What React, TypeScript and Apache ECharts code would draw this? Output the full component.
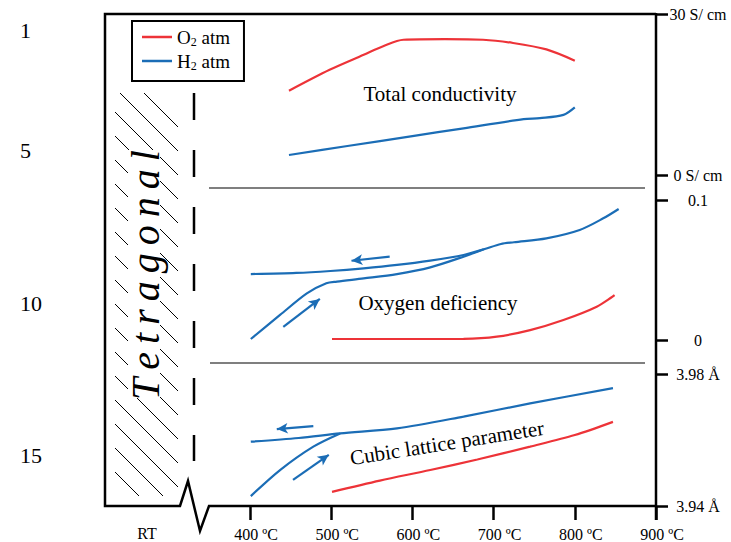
import React, { useEffect, useRef } from "react";
import * as echarts from "echarts";

const RED = "#ED3338";
const BLUE = "#1B6DB6";
const FONT = "'Liberation Serif', 'Times New Roman', serif";

// Total conductivity (S/cm) vs temperature (ºC)
const condO2T = [448, 498, 540, 564, 589, 640, 687, 724, 765, 800];
const condO2 = [15.7, 19.6, 22.4, 24.0, 25.2, 25.3, 25.2, 24.6, 23.4, 21.3];
const condH2T = [448, 520, 600, 663, 737, 757, 786, 800];
const condH2 = [3.73, 5.4, 7.25, 8.7, 10.4, 10.6, 11.2, 12.6];

// Oxygen deficiency
const defH2CoolT = [401, 457, 499, 540, 581, 622, 663, 688, 709, 725, 765, 806, 835, 854];
const defH2Cool = [0.0471, 0.0479, 0.0493, 0.0512, 0.0536, 0.0567, 0.0607, 0.0648, 0.0686, 0.0698, 0.0726, 0.0786, 0.0869, 0.0936];
const defH2HeatT = [401, 437, 470, 494, 507, 540, 581, 622, 663, 688];
const defH2Heat = [0.0007, 0.0179, 0.0333, 0.0405, 0.0417, 0.044, 0.0471, 0.0519, 0.0595, 0.0648];
const defO2T = [501, 560, 620, 663, 704, 745, 786, 827, 849];
const defO2 = [0.0007, 0.0007, 0.0007, 0.0008, 0.0024, 0.0071, 0.0143, 0.0238, 0.032];

// Cubic lattice parameter (Å)
const latH2CoolT = [401, 460, 511, 581, 663, 745, 847];
const latH2Cool = [3.9595, 3.9606, 3.962, 3.9635, 3.9671, 3.9711, 3.9757];
const latH2HeatT = [401, 437, 478, 511];
const latH2Heat = [3.943, 3.9509, 3.958, 3.962];
const latO2T = [501, 560, 622, 680, 745, 800, 847];
const latO2 = [3.9443, 3.9477, 3.9509, 3.9541, 3.958, 3.9615, 3.9655];

// Arrows [from, to] as [T, value]
const defCoolArrow = [[572, 0.0595], [525, 0.0566]];
const defHeatArrow = [[441, 0.0093], [486, 0.0293]];
const latCoolArrow = [[478, 3.9642], [433, 3.9633]];
const latHeatArrow = [[453, 3.9479], [497, 3.9555]];

// Axis ticks
const xTicks = [400, 500, 600, 700, 800, 900];
const condTicks = [0, 30];
const defTicks = [0, 0.1];
const latTicks = [3.94, 3.98];
const lineNumbers = [
  { t: "1", y: 30 },
  { t: "5", y: 150 },
  { t: "10", y: 303 },
  { t: "15", y: 455 },
];

const pairs = (xs: number[], ys: number[]) => xs.map((x, i) => [x, ys[i]]);

function lineSeries(name: string, color: string, xi: number, xs: number[], ys: number[], arrows?: number[][][], curv?: number[]) {
  const s: any = {
    name,
    type: "line",
    xAxisIndex: xi,
    yAxisIndex: xi,
    data: pairs(xs, ys),
    smooth: 0.3,
    symbol: "none",
    lineStyle: { color, width: 2.2 },
    itemStyle: { color },
    emphasis: { disabled: true },
    silent: true,
  };
  if (arrows) {
    s.markLine = {
      silent: true,
      symbol: ["none", "arrow"],
      symbolSize: [8, 11],
      label: { show: false },
      lineStyle: { color, width: 2.2, type: "solid" },
      emphasis: { disabled: true },
      data: arrows.map((a, i) => [
        { coord: a[0], lineStyle: { curveness: curv ? curv[i] : 0 } },
        { coord: a[1] },
      ]),
    };
  }
  return s;
}

function buildHatch() {
  const els: any[] = [];
  for (let c = -51; c <= 357; c += 24) {
    const x1 = Math.max(115, 93 - c);
    const x2 = Math.min(178, 496 - c);
    if (x2 > x1) {
      els.push({
        type: "line",
        silent: true,
        shape: { x1, y1: x1 + c, x2, y2: x2 + c },
        style: { stroke: "#000", lineWidth: 1 },
      });
    }
  }
  return els;
}

export default function App() {
  const ref = useRef<HTMLDivElement>(null);
  useEffect(() => {
    if (!ref.current) return;
    const chart = echarts.init(ref.current, undefined, { renderer: "svg" });
    const yCommon = {
      type: "value",
      position: "right",
      axisLine: { show: false },
      splitLine: { show: false },
    };
    const tickStyle = { length: 12, lineStyle: { color: "#000", width: 2.5 } };
    const labelStyle = { color: "#000", fontSize: 16, fontFamily: FONT, align: "center", margin: 42 };
    const option: any = {
      animation: false,
      backgroundColor: "#fff",
      grid: [
        { left: 250, width: 406, top: 14, height: 161 },
        { left: 250, width: 406, top: 200, height: 140 },
        { left: 250, width: 406, top: 374, height: 132 },
      ],
      xAxis: [
        { gridIndex: 0, type: "value", min: 400, max: 900, show: false },
        { gridIndex: 1, type: "value", min: 400, max: 900, show: false },
        {
          gridIndex: 2,
          type: "value",
          min: 400,
          max: 900,
          interval: 100,
          axisLine: { show: false },
          splitLine: { show: false },
          axisTick: { show: true, inside: false, length: 14, customValues: xTicks, lineStyle: { color: "#000", width: 2.5 } },
          axisLabel: {
            customValues: xTicks,
            formatter: (v: number) => v + " ºC",
            margin: 20,
            color: "#000",
            fontSize: 16,
            fontFamily: FONT,
            padding: [0, 0, 0, 12],
          },
        },
      ],
      yAxis: [
        {
          ...yCommon,
          gridIndex: 0,
          min: 0,
          max: 30,
          axisTick: { ...tickStyle, customValues: condTicks },
          axisLabel: { ...labelStyle, customValues: condTicks, formatter: (v: number) => v + " S/ cm" },
        },
        {
          ...yCommon,
          gridIndex: 1,
          min: 0,
          max: 0.1,
          axisTick: { ...tickStyle, customValues: defTicks },
          axisLabel: { ...labelStyle, customValues: defTicks, formatter: (v: number) => String(v) },
        },
        {
          ...yCommon,
          gridIndex: 2,
          min: 3.94,
          max: 3.98,
          axisTick: { ...tickStyle, customValues: latTicks },
          axisLabel: { ...labelStyle, customValues: latTicks, formatter: (v: number) => v.toFixed(2) + " Å" },
        },
      ],
      legend: {
        left: 132,
        top: 21,
        orient: "vertical",
        data: [
          { name: "O2 atm", icon: "rect" },
          { name: "H2 atm", icon: "rect" },
        ],
        itemWidth: 30,
        itemHeight: 2.5,
        itemGap: 2,
        padding: [5, 14, 9, 10],
        borderColor: "#000",
        borderWidth: 2,
        selectedMode: false,
        formatter: (n: string) => (n === "O2 atm" ? "O{s|2} atm" : "H{s|2} atm"),
        textStyle: {
          color: "#000",
          fontSize: 19,
          fontFamily: FONT,
          lineHeight: 22,
          rich: {
            s: { fontSize: 12, lineHeight: 10, verticalAlign: "bottom", fontFamily: FONT, color: "#000" },
          },
        },
      },
      series: [
        lineSeries("O2 atm", RED, 0, condO2T, condO2),
        lineSeries("H2 atm", BLUE, 0, condH2T, condH2),
        lineSeries("H2 atm", BLUE, 1, defH2CoolT, defH2Cool, [defCoolArrow], [0.05]),
        lineSeries("H2 atm", BLUE, 1, defH2HeatT, defH2Heat, [defHeatArrow], [0.2]),
        lineSeries("O2 atm", RED, 1, defO2T, defO2),
        lineSeries("H2 atm", BLUE, 2, latH2CoolT, latH2Cool, [latCoolArrow], [0.05]),
        lineSeries("H2 atm", BLUE, 2, latH2HeatT, latH2Heat, [latHeatArrow], [0.2]),
        lineSeries("O2 atm", RED, 2, latO2T, latO2),
      ],
      graphic: [
        ...buildHatch(),
        { type: "rect", silent: true, shape: { x: 128, y: 150, width: 32, height: 248 }, style: { fill: "#fff" } },
        {
          type: "text",
          silent: true,
          x: 145,
          y: 275,
          rotation: Math.PI / 2,
          style: {
            text: "T\u2009e\u2009t\u2009r\u2009a\u2009g\u2009o\u2009n\u2009a\u2009l",
            fontSize: 40,
            fontStyle: "italic",
            fontFamily: FONT,
            fill: "#000",
            align: "center",
            verticalAlign: "middle",
          },
        },
        {
          type: "line",
          silent: true,
          shape: { x1: 194, y1: 93, x2: 194, y2: 461 },
          style: { stroke: "#000", lineWidth: 2.5, lineDash: [27, 30] },
        },
        { type: "line", silent: true, shape: { x1: 209, y1: 188, x2: 645, y2: 188 }, style: { stroke: "#555", lineWidth: 1.5 } },
        { type: "line", silent: true, shape: { x1: 210, y1: 363, x2: 645, y2: 363 }, style: { stroke: "#555", lineWidth: 1.5 } },
        {
          type: "polyline",
          silent: true,
          shape: { points: [[656, 14], [105, 14], [105, 506], [180, 506], [188, 481], [200, 531], [209, 506], [656, 506]] },
          style: { stroke: "#000", lineWidth: 2.5, fill: "none", lineJoin: "miter" },
        },
        { type: "line", silent: true, shape: { x1: 656, y1: 13, x2: 656, y2: 520 }, style: { stroke: "#000", lineWidth: 2.5 } },
        { type: "text", silent: true, x: 440, y: 94, style: { text: "Total conductivity", fontSize: 21, fontFamily: FONT, fill: "#000", align: "center", verticalAlign: "middle" } },
        { type: "text", silent: true, x: 438, y: 303, style: { text: "Oxygen deficiency", fontSize: 21, fontFamily: FONT, fill: "#000", align: "center", verticalAlign: "middle" } },
        {
          type: "text",
          silent: true,
          x: 447,
          y: 443,
          rotation: (9 * Math.PI) / 180,
          style: { text: "Cubic lattice parameter", fontSize: 21, fontFamily: FONT, fill: "#000", align: "center", verticalAlign: "middle" },
        },
        { type: "text", silent: true, x: 147, y: 533, style: { text: "RT", fontSize: 16, fontFamily: FONT, fill: "#000", align: "center", verticalAlign: "middle" } },
        ...lineNumbers.map((l) => ({
          type: "text",
          silent: true,
          x: 20,
          y: l.y,
          style: { text: l.t, fontSize: 22, fontFamily: FONT, fill: "#000", align: "left", verticalAlign: "middle" },
        })),
      ],
    };
    chart.setOption(option);
    return () => chart.dispose();
  }, []);
  return <div ref={ref} style={{ position: "fixed", left: 0, top: 0, width: 731, height: 542 }} />;
}
